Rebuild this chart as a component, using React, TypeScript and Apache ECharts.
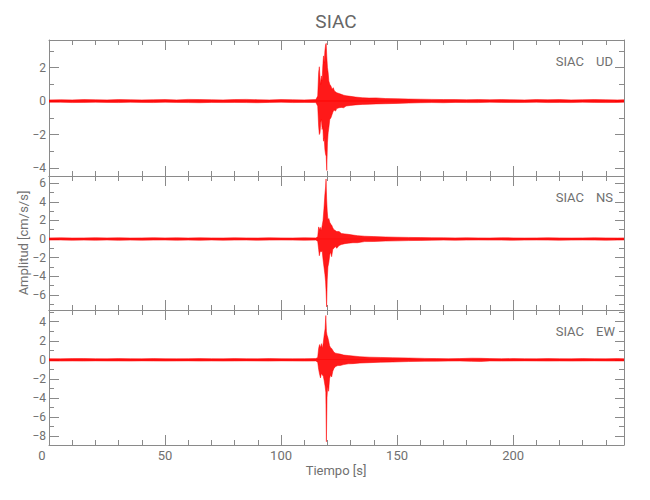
import React, { useEffect, useRef } from "react";
import * as echarts from "echarts";

// ---------- data ----------
const X_MAX = 247.8;
const xMajor = [0, 50, 100, 150, 200];
const xMinor = [10, 20, 30, 40, 60, 70, 80, 90, 110, 120, 130, 140, 160, 170, 180, 190, 210, 220, 230, 240];

const udRange = [-4.48, 3.65];
const nsRange = [-7.63, 6.77];
const ewRange = [-8.94, 5.23];
const udMajor = [-4, -2, 0, 2];
const udMinor = [-3, -1, 1, 3];
const nsMajor = [-6, -4, -2, 0, 2, 4, 6];
const nsMinor = [-7, -5, -3, -1, 1, 3, 5];
const ewMajor = [-8, -6, -4, -2, 0, 2, 4];
const ewMinor = [-7, -5, -3, -1, 1, 3, 5];

// envelope rows: [time s, upper amplitude, lower amplitude]
const udTrace: [number, number, number][] = [
  [0, 0.07, 0.07], [5, 0.08, 0.07], [10, 0.07, 0.09], [15, 0.09, 0.08], [20, 0.08, 0.07], [25, 0.07, 0.08],
  [30, 0.09, 0.09], [35, 0.08, 0.07], [40, 0.07, 0.08], [45, 0.08, 0.09], [50, 0.09, 0.07], [55, 0.07, 0.08],
  [60, 0.1, 0.09], [65, 0.09, 0.1], [70, 0.08, 0.08], [75, 0.07, 0.09], [80, 0.09, 0.08], [85, 0.1, 0.09],
  [90, 0.08, 0.1], [95, 0.07, 0.08], [100, 0.09, 0.07], [105, 0.08, 0.09], [110, 0.07, 0.08], [115, 0.09, 0.09],
  [115.8, 0.3, 0.3], [116.2, 1.7, 1.5], [116.5, 2.05, 2.0], [116.8, 1.4, 1.9], [117.1, 1.0, 1.3],
  [117.4, 1.5, 1.1], [117.7, 1.2, 1.7], [118.0, 2.1, 1.5], [118.3, 2.7, 2.4], [118.6, 2.3, 2.2],
  [118.9, 3.0, 2.9], [119.2, 3.35, 3.2], [119.45, 3.45, 3.3], [119.7, 2.7, 4.15], [120.0, 2.0, 2.5],
  [120.3, 1.7, 1.9], [120.6, 1.2, 1.6], [121.0, 1.0, 1.1], [121.5, 0.9, 1.0], [122.0, 0.7, 0.8],
  [122.5, 0.8, 0.6], [123.0, 0.6, 0.55], [123.5, 0.55, 0.6], [124.0, 0.5, 0.45], [125, 0.45, 0.4],
  [126, 0.4, 0.38], [127, 0.35, 0.4], [128, 0.32, 0.3], [130, 0.28, 0.26], [132, 0.24, 0.23],
  [135, 0.2, 0.2], [138, 0.18, 0.19], [141, 0.19, 0.17], [145, 0.15, 0.16], [150, 0.14, 0.14],
  [155, 0.12, 0.12], [160, 0.11, 0.1], [165, 0.1, 0.09], [170, 0.09, 0.1], [175, 0.09, 0.08],
  [180, 0.08, 0.09], [185, 0.09, 0.09], [190, 0.08, 0.07], [195, 0.09, 0.08], [200, 0.08, 0.09],
  [205, 0.07, 0.08], [210, 0.09, 0.07], [215, 0.08, 0.09], [220, 0.09, 0.08], [225, 0.07, 0.09],
  [230, 0.08, 0.07], [235, 0.09, 0.08], [240, 0.08, 0.09], [245, 0.07, 0.08], [247.8, 0.08, 0.07],
];

const nsTrace: [number, number, number][] = [
  [0, 0.12, 0.12], [5, 0.13, 0.11], [10, 0.11, 0.13], [15, 0.12, 0.12], [20, 0.14, 0.13], [25, 0.12, 0.11],
  [30, 0.13, 0.14], [35, 0.11, 0.12], [40, 0.12, 0.13], [45, 0.14, 0.12], [50, 0.12, 0.11], [55, 0.13, 0.13],
  [60, 0.11, 0.12], [65, 0.13, 0.14], [70, 0.12, 0.11], [75, 0.11, 0.13], [80, 0.13, 0.12], [85, 0.12, 0.11],
  [90, 0.11, 0.13], [95, 0.13, 0.12], [100, 0.12, 0.11], [105, 0.11, 0.12], [110, 0.13, 0.13], [115, 0.12, 0.12],
  [115.8, 0.25, 0.25], [116.2, 1.3, 1.1], [116.5, 1.0, 1.8], [116.9, 1.25, 1.3], [117.3, 0.9, 1.4],
  [117.7, 1.4, 1.2], [118.1, 2.0, 2.2], [118.5, 3.3, 3.0], [118.9, 4.8, 3.8], [119.2, 5.6, 4.6],
  [119.4, 6.45, 5.6], [119.65, 4.3, 7.3], [119.9, 3.0, 4.4], [120.2, 2.1, 3.0], [120.6, 2.2, 2.5],
  [121.0, 1.8, 1.7], [121.4, 1.6, 1.4], [121.8, 1.5, 1.9], [122.3, 1.2, 1.1], [122.8, 1.0, 1.0],
  [123.4, 0.9, 0.8], [124.0, 0.8, 1.0], [125.0, 0.8, 0.7], [126.0, 0.6, 0.6], [127.5, 0.55, 0.5],
  [129, 0.5, 0.45], [131, 0.42, 0.4], [133, 0.36, 0.4], [136, 0.3, 0.28], [140, 0.26, 0.27],
  [145, 0.22, 0.22], [150, 0.19, 0.2], [155, 0.17, 0.17], [160, 0.15, 0.15], [165, 0.14, 0.13],
  [170, 0.13, 0.12], [175, 0.12, 0.13], [180, 0.13, 0.12], [185, 0.12, 0.11], [190, 0.11, 0.12],
  [195, 0.13, 0.12], [200, 0.12, 0.13], [205, 0.11, 0.12], [210, 0.12, 0.11], [215, 0.13, 0.12],
  [220, 0.12, 0.13], [225, 0.11, 0.12], [230, 0.12, 0.11], [235, 0.13, 0.12], [240, 0.12, 0.13],
  [245, 0.11, 0.12], [247.8, 0.12, 0.11],
];

const ewTrace: [number, number, number][] = [
  [0, 0.12, 0.12], [5, 0.11, 0.13], [10, 0.13, 0.12], [15, 0.14, 0.13], [20, 0.12, 0.11], [25, 0.11, 0.12],
  [30, 0.13, 0.12], [35, 0.12, 0.13], [40, 0.11, 0.11], [45, 0.13, 0.12], [50, 0.12, 0.13], [55, 0.11, 0.12],
  [60, 0.12, 0.11], [65, 0.13, 0.13], [70, 0.12, 0.12], [75, 0.11, 0.13], [80, 0.13, 0.12], [85, 0.12, 0.11],
  [90, 0.11, 0.12], [95, 0.13, 0.13], [100, 0.12, 0.11], [105, 0.11, 0.12], [110, 0.12, 0.13], [115, 0.13, 0.12],
  [115.8, 0.25, 0.25], [116.2, 1.2, 1.0], [116.6, 1.6, 1.5], [117.0, 1.3, 1.9], [117.4, 1.7, 1.4],
  [117.8, 1.2, 1.6], [118.2, 1.8, 1.7], [118.6, 2.6, 2.2], [119.0, 3.3, 2.8], [119.3, 4.65, 3.4],
  [119.55, 3.0, 8.6], [119.8, 2.6, 4.0], [120.1, 2.4, 2.8], [120.5, 2.0, 3.3], [120.9, 1.5, 2.0],
  [121.3, 1.3, 1.6], [121.8, 1.2, 1.8], [122.3, 1.0, 1.2], [122.8, 0.8, 0.9], [123.5, 0.7, 0.7],
  [124.5, 0.65, 0.6], [125.5, 0.6, 0.6], [127, 0.5, 0.5], [129, 0.45, 0.42], [131, 0.4, 0.4],
  [134, 0.33, 0.34], [138, 0.28, 0.3], [143, 0.25, 0.25], [148, 0.22, 0.23], [155, 0.19, 0.18],
  [162, 0.15, 0.15], [167, 0.13, 0.14], [172, 0.12, 0.13], [177, 0.13, 0.12], [182, 0.17, 0.16],
  [186, 0.16, 0.17], [190, 0.13, 0.12], [195, 0.12, 0.13], [200, 0.13, 0.12], [205, 0.12, 0.11],
  [210, 0.11, 0.12], [215, 0.13, 0.13], [220, 0.12, 0.12], [225, 0.11, 0.13], [230, 0.13, 0.12],
  [235, 0.12, 0.11], [240, 0.11, 0.12], [245, 0.13, 0.12], [247.8, 0.12, 0.12],
];

const station = "SIAC";
const components = ["UD", "NS", "EW"];

// ---------- styles ----------
const FONT = "Roboto, 'Liberation Sans', sans-serif";
const AXIS = "#8a8a8a";
const TEXT = "#707070";
const RED = "#ff0000";

const panels = [
  { top: 40, height: 136, range: udRange, major: udMajor, minor: udMinor, trace: udTrace },
  { top: 176, height: 134, range: nsRange, major: nsMajor, minor: nsMinor, trace: nsTrace },
  { top: 310, height: 135, range: ewRange, major: ewMajor, minor: ewMinor, trace: ewTrace },
];

const fmtNum = (v: number) => (v < 0 ? "\u2212" + Math.abs(v) : String(v));

export default function App() {
  const ref = useRef<HTMLDivElement>(null);

  useEffect(() => {
    if (!ref.current) return;
    const chart = echarts.init(ref.current, undefined, { renderer: "svg" });

    const grids: any[] = [];
    const xAxes: any[] = [];
    const yAxes: any[] = [];
    const series: any[] = [];
    const graphics: any[] = [];

    panels.forEach((p, gi) => {
      grids.push({ left: 49, right: 26, top: p.top, height: p.height, containLabel: false });
      const isLast = gi === panels.length - 1;

      const xBase = (position: string, values: number[], len: number, line: boolean, labels: boolean) => ({
        type: "value",
        gridIndex: gi,
        position,
        min: 0,
        max: X_MAX,
        splitLine: { show: false },
        axisLine: { show: line, onZero: false, lineStyle: { color: AXIS, width: 1 } },
        axisTick: { show: true, inside: true, length: len, lineStyle: { color: AXIS, width: 1 }, customValues: values },
        axisLabel: labels
          ? {
              show: true,
              customValues: xMajor,
              margin: 4,
              color: TEXT,
              fontSize: 13,
              fontFamily: FONT,
              formatter: (v: number) => (v === 0 ? "{z|0}" : String(v)),
              rich: { z: { padding: [0, 14, 0, 0], color: TEXT, fontSize: 13, fontFamily: FONT } },
            }
          : { show: false },
      });
      xAxes.push(xBase("bottom", xMajor, 10, true, isLast));
      xAxes.push(xBase("bottom", xMinor, 5, false, false));
      xAxes.push(xBase("top", xMajor, 10, true, false));
      xAxes.push(xBase("top", xMinor, 5, false, false));

      const yBase = (position: string, values: number[], len: number, line: boolean, labels: boolean) => ({
        type: "value",
        gridIndex: gi,
        position,
        min: p.range[0],
        max: p.range[1],
        splitLine: { show: false },
        axisLine: { show: line, onZero: false, lineStyle: { color: AXIS, width: 1 } },
        axisTick: { show: true, inside: true, length: len, lineStyle: { color: AXIS, width: 1 }, customValues: values },
        axisLabel: labels
          ? {
              show: true,
              customValues: p.major,
              margin: 3,
              color: TEXT,
              fontSize: 12,
              fontFamily: FONT,
              formatter: fmtNum,
            }
          : { show: false },
      });
      yAxes.push(yBase("left", p.major, 10, true, true));
      yAxes.push(yBase("left", p.minor, 5, false, false));
      yAxes.push(yBase("right", p.major, 9, true, false));
      yAxes.push(yBase("right", p.minor, 5, false, false));

      const common = {
        type: "line",
        xAxisIndex: gi * 4,
        yAxisIndex: gi * 4,
        showSymbol: false,
        symbol: "none",
        silent: true,
        smooth: false,
        lineStyle: { color: RED, width: 0.5 },
        z: 3,
      };
      series.push({
        ...common,
        name: components[gi] + " +",
        data: p.trace.map((r) => [r[0], r[1]]),
        areaStyle: { color: RED, opacity: 0.9, origin: -0.03 },
      });
      series.push({
        ...common,
        name: components[gi] + " -",
        data: p.trace.map((r) => [r[0], -r[2]]),
        areaStyle: { color: RED, opacity: 0.9, origin: 0.03 },
      });

      graphics.push({
        type: "text",
        x: 584,
        y: p.top + 21,
        style: { text: station, fill: TEXT, fontSize: 13, fontFamily: FONT, align: "right", verticalAlign: "middle" },
      });
      graphics.push({
        type: "text",
        x: 596,
        y: p.top + 21,
        style: { text: components[gi], fill: TEXT, fontSize: 13, fontFamily: FONT, align: "left", verticalAlign: "middle" },
      });
    });

    graphics.push({
      type: "text",
      x: 336,
      y: 21,
      style: { text: station, fill: "#666", fontSize: 19, fontFamily: FONT, align: "center", verticalAlign: "middle" },
    });
    graphics.push({
      type: "text",
      x: 336,
      y: 470,
      style: { text: "Tiempo [s]", fill: TEXT, fontSize: 13, fontFamily: FONT, align: "center", verticalAlign: "middle" },
    });
    graphics.push({
      type: "text",
      x: 23,
      y: 243,
      rotation: Math.PI / 2,
      style: { text: "Amplitud [cm/s/s]", fill: TEXT, fontSize: 13, fontFamily: FONT, align: "center", verticalAlign: "middle" },
    });

    chart.setOption({
      animation: false,
      backgroundColor: "#ffffff",
      grid: grids,
      xAxis: xAxes,
      yAxis: yAxes,
      series,
      graphic: graphics,
    });

    return () => chart.dispose();
  }, []);

  return <div ref={ref} style={{ position: "absolute", left: 0, top: 0, width: 650, height: 500 }} />;
}
